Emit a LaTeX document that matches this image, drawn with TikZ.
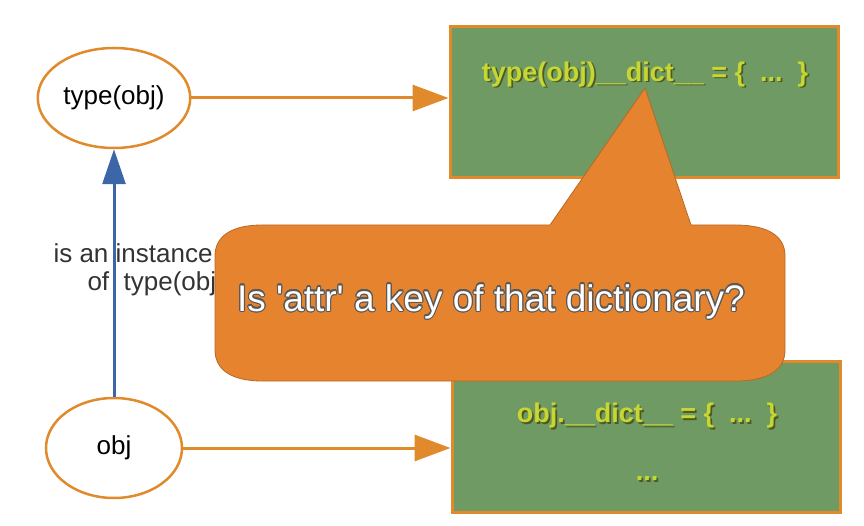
\documentclass[tikz,border=0pt]{standalone}
\usepackage{fontspec}
\setmainfont{Liberation Sans}
\usepackage{contour}
\usetikzlibrary{shapes.geometric, arrows.meta, positioning}
\definecolor{linkorange}{HTML}{E08A2C}
\definecolor{boxgreen}{HTML}{6F9A64}
\definecolor{dictyellow}{HTML}{C6D632}
\definecolor{dictshadow}{HTML}{4E5A22}
\definecolor{calloutfill}{HTML}{E6832E}
\definecolor{instblue}{HTML}{3C66A8}
\contourlength{1.1pt}
\newcommand{\shtext}[1]{\makebox[0pt][l]{\hspace{1.8pt}\raisebox{-1.8pt}{\color{dictshadow}#1}}#1}

\begin{document}
\begin{tikzpicture}[x=1pt, y=-1pt, >={Triangle[length=36pt, width=26pt]}]
    \tikzset{
        objnode/.style={draw=linkorange, line width=2.5pt, ellipse, fill=white,
            minimum width=136pt, minimum height=100pt, font=\fontsize{26}{30}\selectfont},
        dictbox/.style={draw=linkorange, line width=3pt, fill=boxgreen,
            minimum width=388pt, minimum height=151pt},
        dicttext/.style={text=dictyellow, font=\fontsize{27}{34}\selectfont\bfseries, align=center},
        link/.style={->, draw=linkorange, line width=3pt}
    }
    \useasboundingbox (0,0) rectangle (864,526);

    % the two objects
    \node[objnode] (tobj) at (114,98) {type(obj)};
    \node[objnode] (obj) at (114,448) {obj};

    % their dictionaries
    \node[dictbox] (tdict) at (644,102) {};
    \node[dicttext] (tdicttxt) at (645,75) {\shtext{type(obj)\_\_dict\_\_ = \{~~...~~\}}};
    \node[dictbox] (odict) at (646,437) {};
    \node[dicttext] (odicttxt) at (647,443) {\shtext{obj.\_\_dict\_\_ = \{~~...~~\}}\\[24pt]\shtext{...}};

    \draw[link] (tobj.east) -- (tobj.east -| tdict.west);
    \draw[link] (obj.east) -- (obj.east -| odict.west);

    % instance relation
    \draw[->, >={Triangle[length=35pt, width=23pt]}, draw=instblue, fill=instblue, line width=3pt]
        (obj) -- (tobj);
    \node[anchor=west, align=left, font=\fontsize{26}{28}\selectfont, text=black!80] (inst) at (50,270)
        {is an instance\\\hspace*{34pt}of\ \ type(obj)};

    % callout
    \draw[fill=calloutfill, draw=calloutfill!80!black, line width=0.8pt]
        (550,225) -- (645,88) -- (691,225) -- (735,225)
        .. controls (768,225) and (785,236) .. (785,256) -- (785,350)
        .. controls (785,370) and (768,381) .. (735,381) -- (262,381)
        .. controls (232,381) and (215,370) .. (215,350) -- (215,256)
        .. controls (215,236) and (232,225) .. (262,225) -- cycle;
    \node[text=white, font=\fontsize{37}{40}\selectfont] (question) at (491,302)
        {\contour{black!65}{Is \textquotesingle attr\textquotesingle\ a key of that dictionary?}};
\end{tikzpicture}
\end{document}
